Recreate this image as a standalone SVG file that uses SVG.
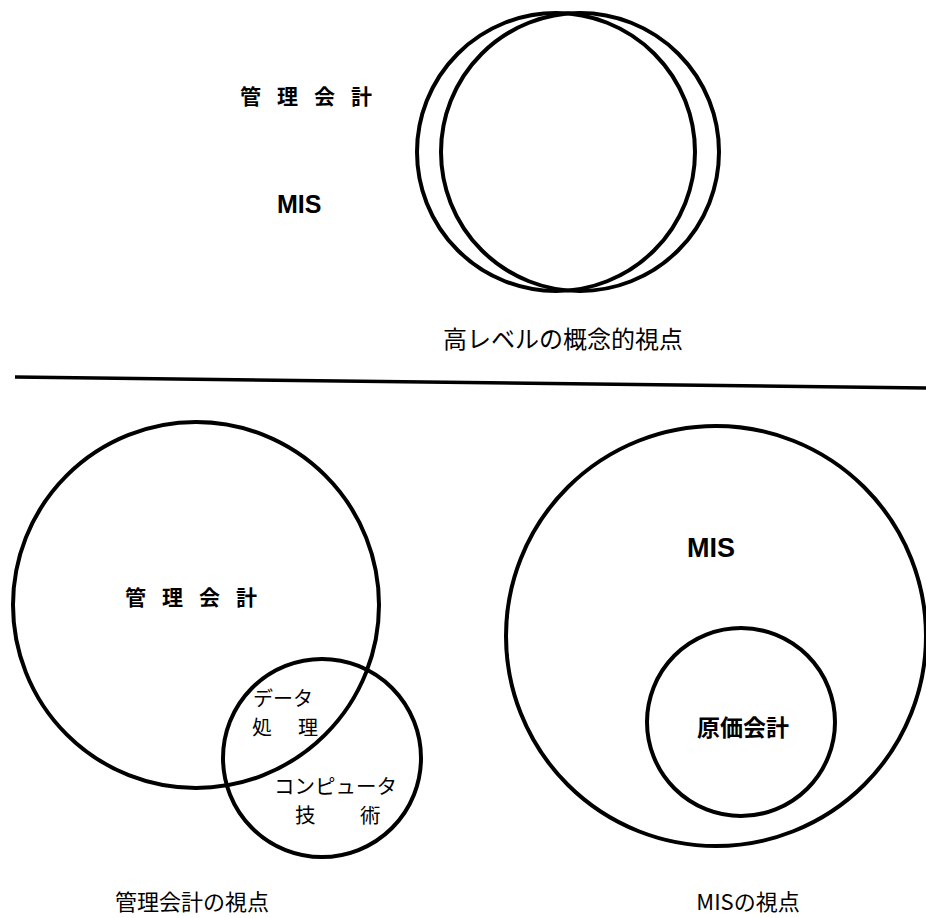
<svg xmlns="http://www.w3.org/2000/svg" width="926" height="918" viewBox="0 0 926 918">
<style>
.c{fill:none;stroke:#000;stroke-width:4}
.j{font-family:"Noto Sans CJK JP","Noto Sans",sans-serif;fill:#000}
.b{font-weight:bold}
.m{font-family:"Liberation Sans",Arial,sans-serif;font-weight:bold;fill:#000}
</style>
<rect width="926" height="918" fill="#fff"/>
<g id="top">
<circle class="c" cx="556" cy="152" r="139"/>
<circle class="c" cx="580" cy="152" r="139"/>
<text class="j b" x="240" y="104" font-size="21" letter-spacing="16">管理会計</text>
<text class="m" x="277" y="213" font-size="25">MIS</text>
<text class="j" x="443" y="348" font-size="24">高レベルの概念的視点</text>
</g>
<g id="divider">
<line x1="15" y1="377" x2="926" y2="388" stroke="#000" stroke-width="3.5"/>
</g>
<g id="mgmt">
<circle class="c" cx="196" cy="605" r="183"/>
<circle class="c" cx="322" cy="758" r="99"/>
<text class="j b" x="125" y="605" font-size="21" letter-spacing="16">管理会計</text>
<text class="j" x="253" y="706" font-size="20">データ</text>
<text class="j" x="252" y="735" font-size="20">処</text>
<text class="j" x="298" y="735" font-size="20">理</text>
<text class="j" x="274" y="794" font-size="20.5">コンピュータ</text>
<text class="j" x="295" y="823" font-size="20.5">技</text>
<text class="j" x="360" y="823" font-size="20.5">術</text>
<text class="j" x="192" y="910" font-size="22" text-anchor="middle">管理会計の視点</text>
</g>
<g id="mis">
<circle class="c" cx="716" cy="636" r="210"/>
<circle class="c" cx="741" cy="722" r="94"/>
<text class="m" x="687" y="557" font-size="27">MIS</text>
<text class="j b" x="697" y="736" font-size="23">原価会計</text>
<text class="j" x="748" y="910" font-size="22" text-anchor="middle">MISの視点</text>
</g>
</svg>
